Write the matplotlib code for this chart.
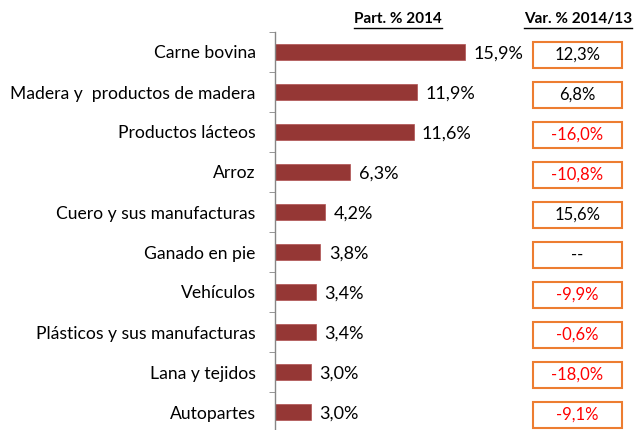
"""Exportaciones 2014: participación y variación por producto."""
import matplotlib
matplotlib.use("Agg")
import matplotlib.pyplot as plt
from matplotlib.patches import Rectangle
from matplotlib.lines import Line2D
import matplotlib.transforms as mtransforms

productos = [
    "Carne bovina",
    "Madera y  productos de madera",
    "Productos lácteos",
    "Arroz",
    "Cuero y sus manufacturas",
    "Ganado en pie",
    "Vehículos",
    "Plásticos y sus manufacturas",
    "Lana y tejidos",
    "Autopartes",
]
part_2014 = [15.9, 11.9, 11.6, 6.3, 4.2, 3.8, 3.4, 3.4, 3.0, 3.0]
var_2014_13 = [12.3, 6.8, -16.0, -10.8, 15.6, None, -9.9, -0.6, -18.0, -9.1]

BAR = "#953735"
BOX = "#ED7D31"
RED = "#FF0000"
FONT = "Lato"

plt.rcParams["font.family"] = [FONT, "DejaVu Sans"]

W, H = 634, 430
fig = plt.figure(figsize=(W / 100, H / 100), dpi=100)
# axes in pixel terms: left 275, top 32, bottom ~432
ax = fig.add_axes([275 / W, -2 / H, 245 / W, 400 / H])

n = len(productos)
ys = list(range(n))
ax.barh(ys, part_2014, height=0.4, color=BAR, edgecolor="#b05050", linewidth=0.5)
ax.set_ylim(n - 0.5, -0.5)
ax.set_xlim(0, 245 / 11.95)

for y, v in zip(ys, part_2014):
    ax.annotate(f"{v:.1f}%".replace(".", ","), (v, y), xytext=(6, -1),
                textcoords="offset points", va="center", ha="left", fontsize=13)

for s in ["top", "right", "bottom"]:
    ax.spines[s].set_visible(False)
ax.spines["left"].set_color("#868686")
ax.spines["left"].set_linewidth(1.0)
ax.set_xticks([])
ax.set_yticks(ys)
ax.set_yticklabels(productos, fontsize=12.6)
ax.set_yticks([i + 0.5 for i in range(-1, n)], minor=True)
ax.tick_params(axis="y", which="major", length=0, pad=14)
ax.tick_params(axis="y", which="minor", length=4, color="#868686", direction="out")

# variation boxes
trans = mtransforms.blended_transform_factory(fig.transFigure, ax.transData)
bx0, bw = 533 / W, 89 / W
bh = 0.64
for y, v in zip(ys, var_2014_13):
    ax.add_patch(Rectangle((bx0, y + 0.07 - bh / 2), bw, bh, transform=trans,
                           clip_on=False, facecolor="white", edgecolor=BOX,
                           linewidth=1.5))
    if v is None:
        txt, col = "--", "black"
    else:
        txt = f"{v:.1f}%".replace(".", ",")
        col = RED if v < 0 else "black"
    ax.text(bx0 + bw / 2, y + 0.07, txt, transform=trans, ha="center",
            va="center", fontsize=12, color=col, clip_on=False)

# underlined headers
headers = [("Part. % 2014", 398), ("Var. % 2014/13", 578)]
fig.canvas.draw()
renderer = fig.canvas.get_renderer()
for label, xc in headers:
    t = fig.text(xc / W, 1 - 19 / H, label, ha="center", va="center",
                 fontsize=11, fontweight="bold")
    bb = t.get_window_extent(renderer).transformed(fig.transFigure.inverted())
    fig.add_artist(Line2D([bb.x0, bb.x1], [bb.y0 - 1.5 / H, bb.y0 - 1.5 / H],
                          transform=fig.transFigure, color="black", linewidth=1))

fig.savefig("out.png", dpi=100)
